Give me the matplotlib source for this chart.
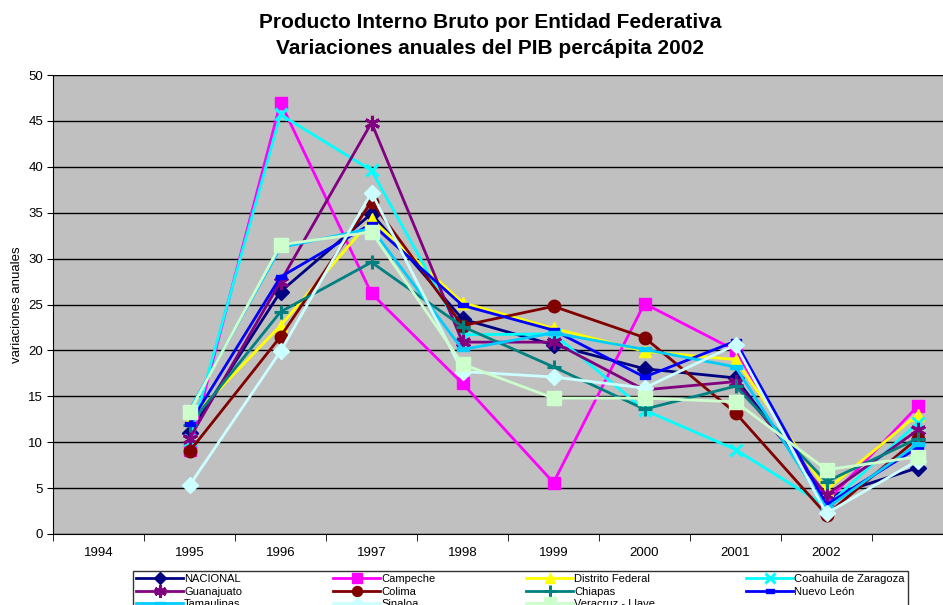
import numpy as np
import matplotlib.pyplot as plt
from matplotlib.path import Path

plt.rcParams['font.family'] = ['Liberation Sans', 'DejaVu Sans']

# Annual variation of per-capita GDP, one value per year (9 points each)
years = ['1994', '1995', '1996', '1997', '1998', '1999', '2000', '2001', '2002']

nacional = [11.0, 26.4, 34.9, 23.4, 20.6, 18.0, 17.0, 4.0, 7.2]
campeche = [9.2, 47.0, 26.2, 16.4, 5.6, 25.1, 20.0, 3.5, 13.9]
distrito_federal = [12.4, 22.7, 34.3, 25.2, 22.4, 19.9, 19.0, 4.8, 13.0]
coahuila = [10.2, 45.7, 39.6, 21.7, 21.8, 13.5, 9.2, 3.0, 12.1]
guanajuato = [10.4, 27.5, 44.8, 20.9, 20.9, 15.7, 16.6, 4.25, 11.3]
colima = [9.0, 21.5, 36.2, 22.7, 24.8, 21.4, 13.2, 2.1, 10.4]
chiapas = [11.9, 24.2, 29.6, 22.6, 18.2, 13.6, 16.1, 5.7, 10.4]
nuevo_leon = [12.0, 28.0, 33.8, 24.9, 22.2, 17.1, 21.0, 3.2, 9.4]
tamaulipas = [13.5, 31.2, 33.3, 20.1, 21.9, 20.1, 18.2, 2.8, 9.8]
sinaloa = [5.3, 19.9, 37.2, 17.7, 17.1, 15.9, 20.6, 2.25, 8.0]
veracruz = [13.3, 31.5, 32.9, 18.5, 14.8, 14.8, 14.4, 7.0, 8.4]

# short and long bar markers
short_bar = Path([(-1, -0.45), (1, -0.45), (1, 0.45), (-1, 0.45), (-1, -0.45)], closed=True)
long_bar = Path([(-1, -0.3), (1, -0.3), (1, 0.3), (-1, 0.3), (-1, -0.3)], closed=True)

series = [
    ('NACIONAL', nacional, '#000080', 'D', 8),
    ('Campeche', campeche, '#FF00FF', 's', 8.5),
    ('Distrito Federal', distrito_federal, '#FFFF00', '^', 9),
    ('Coahuila de Zaragoza', coahuila, '#00FFFF', 'x', 9),
    ('Guanajuato', guanajuato, '#800080', (6, 2, 0), 11),
    ('Colima', colima, '#800000', 'o', 9),
    ('Chiapas', chiapas, '#008080', '+', 10),
    ('Nuevo León', nuevo_leon, '#0000FF', short_bar, 7),
    ('Tamaulipas', tamaulipas, '#00CCFF', long_bar, 9),
    ('Sinaloa', sinaloa, '#CCFFFF', 'D', 8),
    ('Veracruz - Llave', veracruz, '#CCFFCC', 's', 10),
]

fig = plt.figure(figsize=(9.43, 6.05), dpi=100)
ax = fig.add_axes([53 / 943, 71 / 605, 910 / 943, 459 / 605])
ax.set_facecolor('#C0C0C0')

x = np.arange(1, 10)
lines = []
for name, vals, color, marker, ms in series:
    ln, = ax.plot(x, vals, color=color, lw=2, marker=marker, ms=ms,
                  mew=2.2 if marker in ('x', '+', (6, 2, 0)) else 1,
                  mec=color, mfc=color, label=name, clip_on=False, zorder=3)
    lines.append(ln)

ax.set_xlim(-0.5, 9.5)
ax.set_ylim(0, 50)
ax.set_yticks(np.arange(0, 51, 5))
ax.yaxis.grid(True, color='black', lw=1)
ax.set_axisbelow(True)
ax.set_xticks(np.arange(len(years)))
ax.set_xticklabels(years)
ax.set_xticks(np.arange(-0.5, 10, 1), minor=True)
ax.tick_params(axis='x', which='major', length=0, labelsize=9.5, pad=9)
ax.tick_params(axis='x', which='minor', length=5, direction='out', color='black')
ax.tick_params(axis='y', length=4, direction='out', labelsize=9.5, pad=3)
for side in ('right', 'top'):
    ax.spines[side].set_visible(False)
ax.spines['left'].set_color('black')
ax.spines['bottom'].set_color('black')
ax.set_ylabel('variaciones anuales', fontsize=9.5, labelpad=4)

fig.text(490 / 943, 1 - 22 / 605, 'Producto Interno Bruto por Entidad Federativa',
         ha='center', va='center', fontsize=15, fontweight='bold')
fig.text(490 / 943, 1 - 48 / 605, 'Variaciones anuales del PIB percápita 2002',
         ha='center', va='center', fontsize=15, fontweight='bold')

# legend fills column by column, so reorder to read row by row
order = [0, 4, 8, 1, 5, 9, 2, 6, 10, 3, 7]
leg = fig.legend([lines[i] for i in order], [series[i][0] for i in order],
                 loc='upper left', bbox_to_anchor=(133 / 943, 1 - 571 / 605),
                 ncol=4, fontsize=8, frameon=True, fancybox=False,
                 edgecolor='black', handlelength=4.2, handletextpad=0.1,
                 columnspacing=8.2, labelspacing=0.2, borderpad=0.3,
                 borderaxespad=0, markerscale=0.8)
leg.get_frame().set_linewidth(1)

fig.savefig('out.png', dpi=100)
